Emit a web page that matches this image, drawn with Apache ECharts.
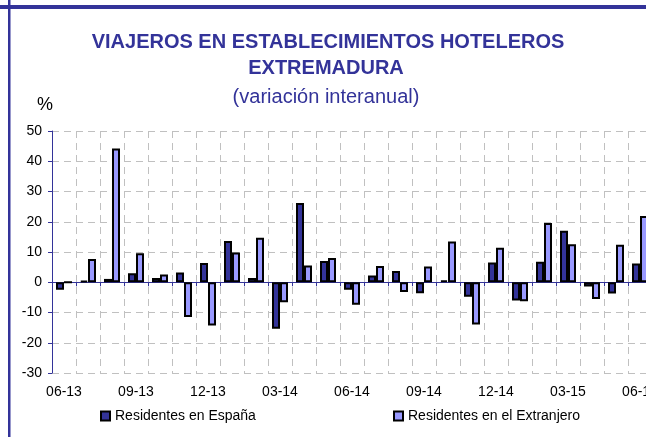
<!DOCTYPE html>
<html>
<head>
<meta charset="utf-8">
<script src="https://cdn.jsdelivr.net/npm/echarts@6/dist/echarts.min.js"></script>
<style>
  html, body { margin: 0; padding: 0; background: #fff; }
  #chart { width: 646px; height: 437px; }
</style>
</head>
<body>
<div id="chart"></div>
<script>
// meses (mm-aa)
var categories = ['06-13', '07-13', '08-13', '09-13', '10-13', '11-13', '12-13', '01-14', '02-14', '03-14',
  '04-14', '05-14', '06-14', '07-14', '08-14', '09-14', '10-14', '11-14', '12-14', '01-15',
  '02-15', '03-15', '04-15', '05-15', '06-15']
var residentesEspana = [-2.5, 0.5, 1.1, 3.0, 1.4, 3.2, 6.4, 13.6, 1.4, -15.4,
  26.2, 7.0, -2.5, 2.2, 3.7, -3.6, 0.6, -4.8, 6.5, -6.0,
  6.8, 17.0, -1.4, -3.7, 6.2]
var residentesExtranjero = [0, 7.7, 44.2, 9.6, 2.6, -11.5, -14.3, 9.8, 14.7, -6.6,
  5.5, 8.0, -7.4, 5.4, -3.2, 5.2, 13.5, -14.0, 11.4, -6.3,
  19.6, 12.6, -5.5, 12.4, 21.9]
var yTicks = [-30, -20, -10, 0, 10, 20, 30, 40, 50]

var azul = '#333399'
var font = 'Arial, "Liberation Sans", sans-serif'
var gridLine = { color: '#c0c0c0', width: 1, type: [7, 5] }

var option = {
  animation: false,
  backgroundColor: '#fff',
  graphic: [
    { type: 'rect', shape: { x: 0, y: 5, width: 646, height: 4 }, style: { fill: azul } },
    { type: 'rect', shape: { x: 8, y: 0, width: 2.5, height: 437 }, style: { fill: azul } },
    { type: 'text', x: 328, y: 42, style: { text: 'VIAJEROS EN ESTABLECIMIENTOS HOTELEROS', fontSize: 20, fontWeight: 'bold', fontFamily: font, fill: azul, align: 'center', verticalAlign: 'middle' } },
    { type: 'text', x: 326, y: 68.5, style: { text: 'EXTREMADURA', fontSize: 20, fontWeight: 'bold', fontFamily: font, fill: azul, align: 'center', verticalAlign: 'middle' } },
    { type: 'text', x: 326, y: 97.5, style: { text: '(variación interanual)', fontSize: 20, fontFamily: font, fill: azul, align: 'center', verticalAlign: 'middle' } },
    { type: 'text', x: 45, y: 105, style: { text: '%', fontSize: 18, fontFamily: font, fill: '#000', align: 'center', verticalAlign: 'middle' } }
  ],
  legend: [{
    left: 100,
    top: 409,
    padding: 0,
    itemWidth: 9,
    itemHeight: 9,
    icon: 'rect',
    data: ['Residentes en España'],
    textStyle: { fontSize: 14, fontFamily: font, color: '#000' }
  }, {
    left: 393,
    top: 409,
    padding: 0,
    itemWidth: 9,
    itemHeight: 9,
    icon: 'rect',
    data: ['Residentes en el Extranjero'],
    textStyle: { fontSize: 14, fontFamily: font, color: '#000' }
  }],
  grid: {
    left: 52,
    top: 131,
    right: -6,
    bottom: 64,
    containLabel: false,
    outerBoundsMode: 'none'
  },
  xAxis: [{
    // etiquetas abajo + rejilla vertical
    type: 'category',
    data: categories,
    position: 'bottom',
    axisLine: { show: false, onZero: false },
    axisTick: { show: false },
    axisLabel: { interval: 2, margin: 12, fontSize: 14, fontFamily: font, color: '#000' },
    splitLine: { show: true, interval: 0, lineStyle: gridLine }
  }, {
    // eje en el cero
    type: 'category',
    data: categories,
    position: 'bottom',
    axisLine: { show: true, onZero: true, lineStyle: { color: azul, width: 1 } },
    axisTick: { show: true, interval: 0, length: 4, lineStyle: { color: azul } },
    axisLabel: { show: false },
    splitLine: { show: false }
  }],
  yAxis: {
    type: 'value',
    min: yTicks[0],
    max: yTicks[yTicks.length - 1],
    interval: 10,
    axisLine: { show: true, lineStyle: { color: azul, width: 1 } },
    axisTick: { show: true, length: 4, lineStyle: { color: azul } },
    axisLabel: { margin: 10, fontSize: 14, fontFamily: font, color: '#000' },
    splitLine: { show: true, lineStyle: gridLine }
  },
  series: [{
    name: 'Residentes en España',
    type: 'bar',
    xAxisIndex: 0,
    barWidth: 8,
    barGap: '0%',
    itemStyle: { color: azul, borderColor: '#000', borderWidth: 2 },
    data: residentesEspana
  }, {
    name: 'Residentes en el Extranjero',
    type: 'bar',
    xAxisIndex: 0,
    barWidth: 8,
    barGap: '0%',
    itemStyle: { color: '#9999ff', borderColor: '#000', borderWidth: 2 },
    data: residentesExtranjero
  }]
}

var myChart = echarts.init(document.getElementById('chart'))
myChart.setOption(option)
</script>
</body>
</html>
